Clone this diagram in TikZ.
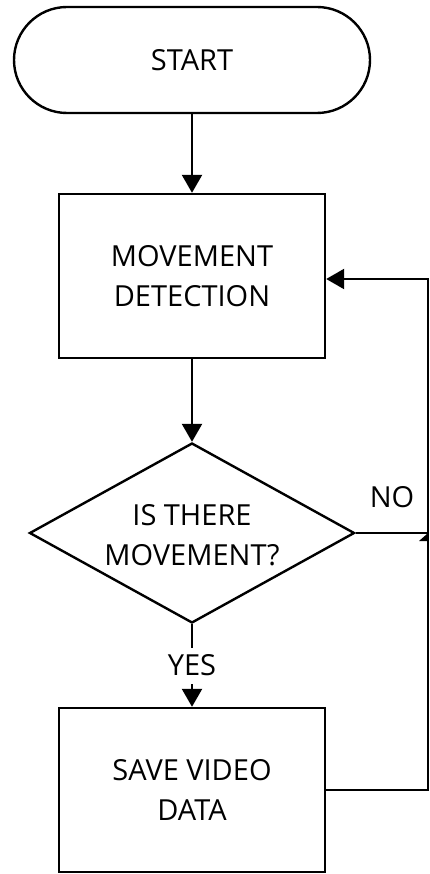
\documentclass[tikz,border=0pt]{standalone}
\usepackage{fontspec}
\setmainfont{Open Sans}
\usetikzlibrary{arrows.meta,shapes.geometric}
\begin{document}
\begin{tikzpicture}[x=1pt,y=-1pt,
  every node/.style={font=\fontsize{29}{40}\selectfont, align=center, inner sep=0pt},
  line/.style={line width=2.4pt, black},
  arr/.style={line, -{Triangle[length=18pt,width=20pt]}},
  boxnode/.style={draw, line width=2.4pt, rectangle, minimum width=266pt, minimum height=164pt},
  startnode/.style={draw, line width=2.4pt, rectangle, rounded corners=53pt, minimum width=356pt, minimum height=106pt},
  decnode/.style={draw, line width=2.4pt, diamond, aspect=1.8, minimum width=325pt, minimum height=180pt, inner sep=0pt}]
\useasboundingbox (0,0) rectangle (430,874);
\node[startnode] (start) at (192,60) {START};
\node[boxnode] (detect) at (192,276) {MOVEMENT\\DETECTION};
\node[decnode] (dec) at (192,533) {};
\node (dectext) at (192,535) {IS THERE\\MOVEMENT?};
\node[boxnode] (save) at (192,790) {SAVE VIDEO\\DATA};
\node (yes) at (192,665) {YES};
\node (no) at (392,497) {NO};
\coordinate (ytop) at (192,648);
\coordinate (ybot) at (192,684);
\coordinate (sr) at (428,790);
\coordinate (tr) at (428,279);
\coordinate (nr) at (428,533);
\draw[arr] (start.south) -- (detect.north);
\draw[arr] (detect.south) -- (dec.north);
\draw[line] (dec.south) -- (ytop);
\draw[arr] (ybot) -- (save.north);
\draw[arr] (save.east |- sr) -- (sr) -- (tr) -- (detect.east |- tr);
\draw[line] (dec.east) -- (nr);
\fill (427,534) -- (427,541) -- (419,541) -- cycle;
\end{tikzpicture}
\end{document}
